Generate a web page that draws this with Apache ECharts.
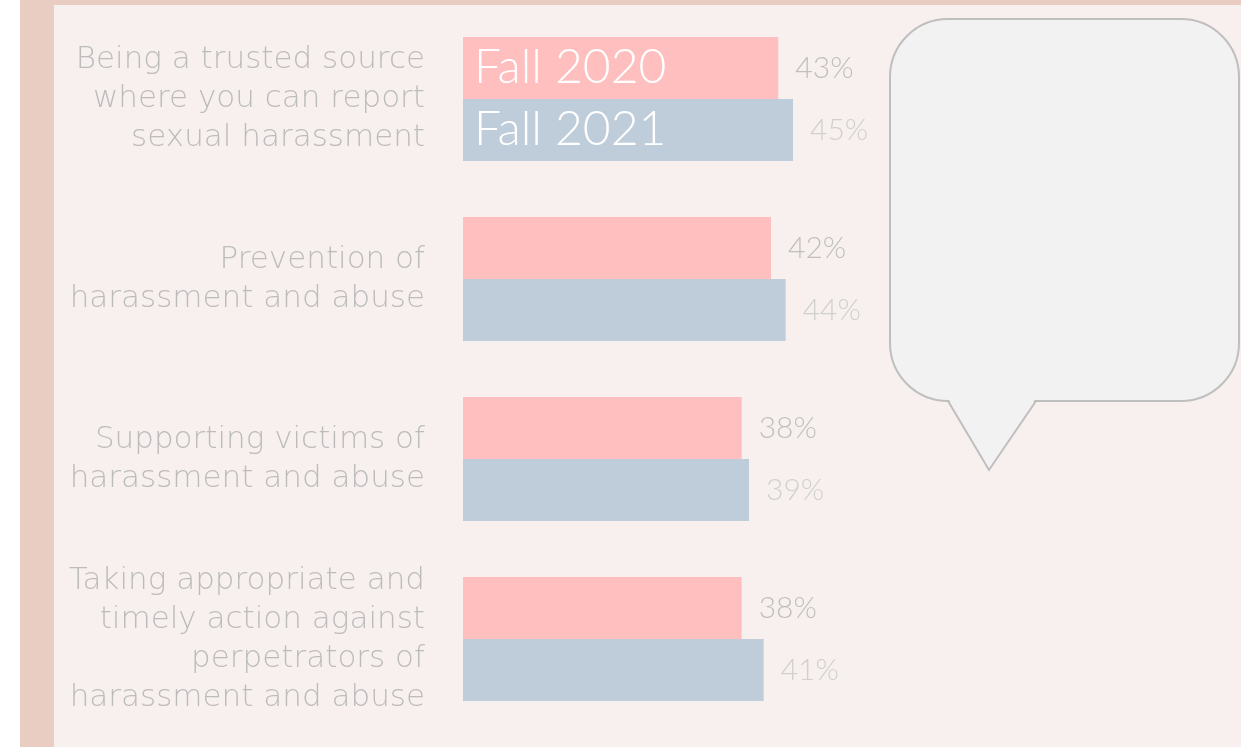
<!DOCTYPE html>
<html>
<head>
<meta charset="utf-8">
<script src="https://cdn.jsdelivr.net/npm/echarts@6/dist/echarts.min.js"></script>
<style>
html,body{margin:0;padding:0;background:#ffffff;}
#chart{width:1241px;height:747px;}
</style>
</head>
<body>
<div id="chart"></div>
<script>
const categories = [
  'Being a trusted source\nwhere you can report\nsexual harassment',
  'Prevention of\nharassment and abuse',
  'Supporting victims of\nharassment and abuse',
  'Taking appropriate and\ntimely action against\nperpetrators of\nharassment and abuse'
];
const seriesNames = ['Fall 2020', 'Fall 2021'];
const fall2020 = [43, 42, 38, 38];
const fall2021 = [45, 44, 39, 41];

const FONT = 'Lato';
const CAT_FONT = 'DejaVu Sans';
const chart = echarts.init(document.getElementById('chart'), null, {renderer: 'canvas'});
chart.setOption({
  animation: false,
  backgroundColor: 'transparent',
  graphic: [
    { type: 'rect', z: -10, shape: {x: 20, y: 0, width: 1221, height: 747}, style: {fill: '#e9cdc3'} },
    { type: 'rect', z: -9, shape: {x: 54, y: 5, width: 1187, height: 742}, style: {fill: '#f8f0ee'} },
    { type: 'rect', z: 5, shape: {x: 890, y: 19, width: 349, height: 382, r: 58},
      style: {fill: '#f2f2f2', stroke: '#bfbfbf', lineWidth: 2} },
    { type: 'polygon', z: 6, shape: {points: [[948, 398], [989, 470], [1036, 398]]},
      style: {fill: '#f2f2f2'} },
    { type: 'polyline', z: 7, shape: {points: [[948, 401], [989, 470], [1036, 401]]},
      style: {stroke: '#bfbfbf', lineWidth: 2, fill: null} }
  ],
  legend: {
    data: seriesNames,
    orient: 'vertical',
    left: 469,
    top: 37,
    padding: 0,
    itemGap: 0,
    itemWidth: 0,
    itemHeight: 0,
    selectedMode: false,
    textStyle: {color: '#ffffff', fontSize: 48, lineHeight: 62, fontFamily: FONT, fontWeight: 300}
  },
  grid: {left: 463, top: 9, width: 440, height: 720, containLabel: false},
  xAxis: {type: 'value', min: 0, max: 60, show: false, splitLine: {show: false}},
  yAxis: {
    type: 'category',
    inverse: true,
    data: categories,
    axisLine: {show: false},
    axisTick: {show: false},
    axisLabel: {color: '#bcbcbc', fontSize: 31, lineHeight: 39, margin: 38, align: 'right', fontFamily: CAT_FONT, fontWeight: 200}
  },
  series: [
    {
      name: seriesNames[0], type: 'bar', data: fall2020,
      barGap: '0%', barCategoryGap: '31%',
      itemStyle: {color: '#ffbfbf'},
      label: {show: true, position: 'right', distance: 17, formatter: '{c}%', color: '#bfbfbf', fontSize: 30, fontFamily: FONT, fontWeight: 300}
    },
    {
      name: seriesNames[1], type: 'bar', data: fall2021,
      barGap: '0%', barCategoryGap: '31%',
      itemStyle: {color: '#bfcddb'},
      label: {show: true, position: 'right', distance: 17, formatter: '{c}%', color: '#d0d0d0', fontSize: 30, fontFamily: FONT, fontWeight: 300}
    }
  ]
});
</script>
</body>
</html>
